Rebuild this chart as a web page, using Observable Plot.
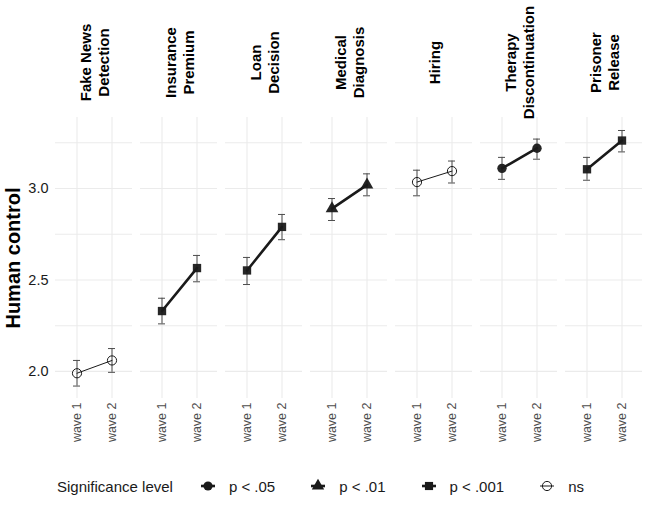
<!DOCTYPE html>
<html><head><meta charset="utf-8">
<script src="https://cdn.jsdelivr.net/npm/d3@7"></script>
<script src="https://cdn.jsdelivr.net/npm/@observablehq/plot@0.6"></script>
<style>
body{margin:0;background:#fff;font-family:"Liberation Sans",Arial,sans-serif;}
#legend{display:flex;align-items:center;height:48px;font-size:15px;color:#1a1a1a;padding-left:57px;}
#legend .item{display:flex;align-items:center;}
#legend svg{display:block;}
</style></head><body><div id="chart"></div><div id="legend"></div>
<script>
const scenarios = ["Fake News Detection","Insurance Premium","Loan Decision","Medical Diagnosis","Hiring","Therapy Discontinuation","Prisoner Release"];
const scenarioLabels = ["Fake News\nDetection","Insurance\nPremium","Loan\nDecision","Medical\nDiagnosis","Hiring","Therapy\nDiscontinuation","Prisoner\nRelease"];
const waves = ["wave 1","wave 2"];
const significance = ["ns","p < .001","p < .001","p < .01","ns","p < .05","p < .001"];
const meanWave1 = [1.99,2.33,2.552,2.89,3.035,3.11,3.105];
const meanWave2 = [2.06,2.565,2.79,3.02,3.095,3.22,3.262];
const lowWave1 = [1.92,2.26,2.475,2.825,2.96,3.05,3.045];
const highWave1 = [2.06,2.40,2.623,2.945,3.10,3.17,3.17];
const lowWave2 = [1.995,2.49,2.72,2.96,3.03,3.16,3.20];
const highWave2 = [2.125,2.634,2.858,3.08,3.15,3.27,3.317];
const sigLevels = ["p < .05","p < .01","p < .001","ns"];
const sigSymbols = ["circle","triangle","square","circle"];
const yTicks = [2.0,2.5,3.0];
const yMinorTicks = [2.25,2.75,3.25];

const rows = [];
scenarios.forEach((s,i)=>{
  rows.push({scenario:s, wave:waves[0], mean:meanWave1[i], low:lowWave1[i], high:highWave1[i], sig:significance[i]});
  rows.push({scenario:s, wave:waves[1], mean:meanWave2[i], low:lowWave2[i], high:highWave2[i], sig:significance[i]});
});
const sigRows = rows.filter(d=>d.sig!=="ns");
const nsRows = rows.filter(d=>d.sig==="ns");
const ink = "#1a1a1a";

const plot = Plot.plot({
  width: 650, height: 462,
  marginTop: 117, marginBottom: 64, marginLeft: 55, marginRight: 7,
  style: {fontFamily: '"Liberation Sans", Arial, sans-serif', background: "white"},
  fx: {domain: scenarios, paddingInner: 0.09, paddingOuter: 0, label: null},
  x: {type: "band", domain: waves, paddingInner: 0.8, paddingOuter: 0.5, label: null},
  y: {domain: [1.852, 3.388], label: null},
  symbol: {domain: sigLevels, range: sigSymbols},
  marks: [
    Plot.gridY([...yTicks, ...yMinorTicks], {stroke: "#ebebeb", strokeOpacity: 1, strokeWidth: 1.1}),
    Plot.gridX(waves, {stroke: "#ebebeb", strokeOpacity: 1, strokeWidth: 1.1}),
    Plot.axisFx({anchor: "top", tickRotate: -90, tickSize: 0, tickPadding: 55, textAnchor: "middle", lineAnchor: "middle", lineHeight: 1.2, fontSize: 15, fontWeight: "bold", fill: "#000", tickFormat: d => scenarioLabels[scenarios.indexOf(d)], label: null}),
    Plot.axisX({anchor: "bottom", tickRotate: -90, tickSize: 0, tickPadding: 4, fontSize: 12.5, fill: "#4d4d4d", label: null}),
    Plot.axisY(yTicks, {anchor: "left", tickSize: 0, tickPadding: 7, fontSize: 14.5, fill: ink, tickFormat: d3.format(".1f"), label: null}),
    Plot.text(["Human control"], {fx: () => scenarios[0], frameAnchor: "left", dx: -42, rotate: -90, textAnchor: "middle", fontSize: 20, fontWeight: "bold", fill: "#000"}),
    Plot.ruleX(rows, {fx: "scenario", x: "wave", y1: "low", y2: "high", stroke: "#4d4d4d", strokeWidth: 1}),
    Plot.tickY(rows, {fx: "scenario", x: "wave", y: "low", stroke: "#4d4d4d", strokeWidth: 1}),
    Plot.tickY(rows, {fx: "scenario", x: "wave", y: "high", stroke: "#4d4d4d", strokeWidth: 1}),
    Plot.line(sigRows, {fx: "scenario", x: "wave", y: "mean", z: "scenario", stroke: ink, strokeWidth: 2.6}),
    Plot.line(nsRows, {fx: "scenario", x: "wave", y: "mean", z: "scenario", stroke: ink, strokeWidth: 1}),
    Plot.dot(sigRows, {fx: "scenario", x: "wave", y: "mean", symbol: "sig", r: 4.7, fill: ink, fillOpacity: 0.95}),
    Plot.dot(nsRows, {fx: "scenario", x: "wave", y: "mean", symbol: "sig", r: 4.6, fill: "none", stroke: ink, strokeWidth: 1})
  ]
});
document.getElementById("chart").appendChild(plot);

// legend
const legend = d3.select("#legend");
legend.append("span").text("Significance level");
const symMap = {circle: d3.symbolCircle, triangle: d3.symbolTriangle, square: d3.symbolSquare};
sigLevels.forEach((lvl,i)=>{
  const item = legend.append("div").attr("class","item").style("margin-left", i===0 ? "27px" : "35px");
  const svg = item.append("svg").attr("width",16).attr("height",16);
  const ns = lvl === "ns";
  svg.append("line").attr("x1",1).attr("x2",15).attr("y1",8).attr("y2",8).attr("stroke",ink).attr("stroke-width", ns ? 1 : 2.6);
  svg.append("path").attr("transform","translate(8,8)")
    .attr("d", d3.symbol(symMap[sigSymbols[i]], Math.PI*4.6*4.6)())
    .attr("fill", ns ? "none" : ink).attr("stroke", ns ? ink : "none").attr("stroke-width",1);
  item.append("span").style("margin-left","13px").text(lvl);
});
</script></body></html>
